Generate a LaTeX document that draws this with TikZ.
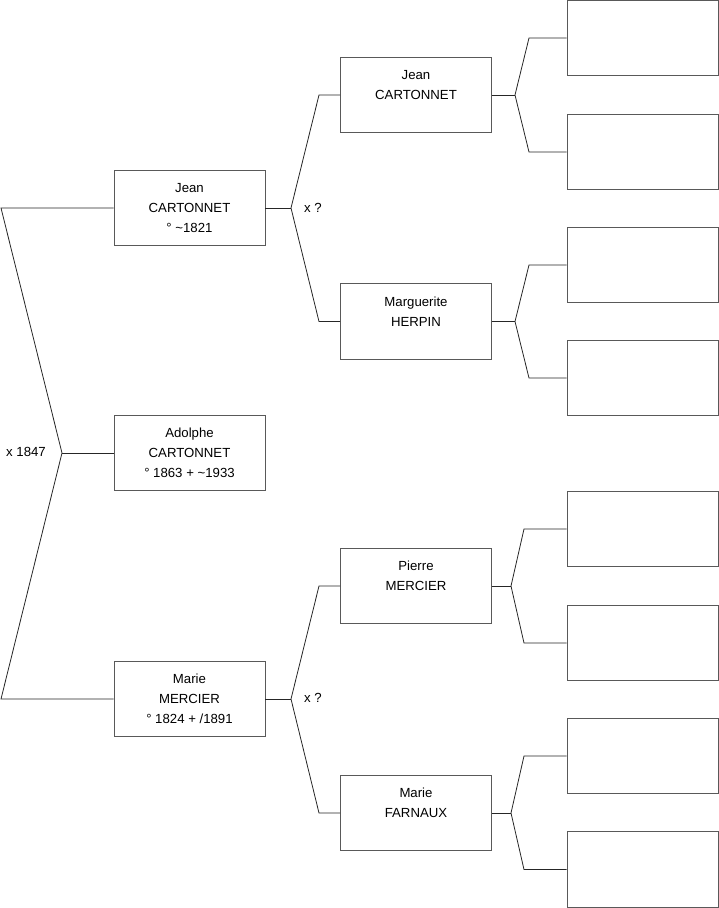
\documentclass[tikz,border=0pt]{standalone}
\usepackage{fontspec}
\setmainfont{Liberation Sans}
\begin{document}
\begin{tikzpicture}[x=1pt,y=-1pt,
    personne/.style={draw=black!65, line width=0.9pt, minimum width=151pt, minimum height=75.5pt,
      align=center, inner sep=0pt, font=\fontsize{13.2}{20}\selectfont},
    lien/.style={line width=0.8pt, black!85},
    mariage/.style={font=\fontsize{13.2}{14}\selectfont, inner sep=0pt}]
    \useasboundingbox (0,0) rectangle (719,908);

    % Personnes
    \node[personne] (adolphe) at (189.5,453) {Adolphe\\CARTONNET\\° 1863 + \textasciitilde1933};
    \node[personne] (jean) at (189.5,208) {Jean\\CARTONNET\\° \textasciitilde1821};
    \node[personne] (marie) at (189.5,699) {Marie\\MERCIER\\° 1824 + /1891};
    \node[personne] (jeanP) at (416,95) {Jean\\CARTONNET\\\mbox{}};
    \node[personne] (marguerite) at (416,321.5) {Marguerite\\HERPIN\\\mbox{}};
    \node[personne] (pierre) at (416,586) {Pierre\\MERCIER\\\mbox{}};
    \node[personne] (marieF) at (416,813) {Marie\\FARNAUX\\\mbox{}};

    % Cases vides
    \node[personne] (jeanPa) at (642.5,38) {};
    \node[personne] (jeanPb) at (642.5,152) {};
    \node[personne] (marguerA) at (642.5,265) {};
    \node[personne] (marguerB) at (642.5,378) {};
    \node[personne] (pierreA) at (642.5,529) {};
    \node[personne] (pierreB) at (642.5,643) {};
    \node[personne] (marieFa) at (642.5,756) {};
    \node[personne] (marieFb) at (642.5,869.5) {};

    % Coordonnees des branches
    \coordinate (j0) at (62,453);
    \coordinate (j0h) at (1,208);
    \coordinate (j0b) at (1,699);
    \coordinate (j1) at (291,208);
    \coordinate (j1h) at (319,95);
    \coordinate (j1b) at (319,321.5);
    \coordinate (j2) at (291,699);
    \coordinate (j2h) at (319,586);
    \coordinate (j2b) at (319,813);

    % Generation 1
    \draw[lien] (adolphe.west) -- (j0);
    \draw[lien] (jean.west) -- (j0h) -- (j0) -- (j0b) -- (marie.west);
    \node[mariage, anchor=east] at (46,452) {x 1847};

    % Generation 2
    \draw[lien] (jean.east) -- (j1);
    \draw[lien] (jeanP.west) -- (j1h) -- (j1) -- (j1b) -- (marguerite.west);
    \node[mariage, anchor=west] at (304,208) {x ?};
    \draw[lien] (marie.east) -- (j2);
    \draw[lien] (pierre.west) -- (j2h) -- (j2) -- (j2b) -- (marieF.west);
    \node[mariage, anchor=west] at (304,698) {x ?};

    % Generation 3
    \foreach \enf/\ha/\hb/\jx/\kx in {jeanP/jeanPa/jeanPb/515/529, marguerite/marguerA/marguerB/515/529,
                                       pierre/pierreA/pierreB/511/524, marieF/marieFa/marieFb/511/524} {
      \coordinate (k) at (\jx,0 |- \enf.east);
      \draw[lien] (\enf.east) -- (k);
      \draw[lien] (\ha.west) -- (\kx,0 |- \ha.west) -- (k) -- (\kx,0 |- \hb.west) -- (\hb.west);
    }
\end{tikzpicture}
\end{document}
